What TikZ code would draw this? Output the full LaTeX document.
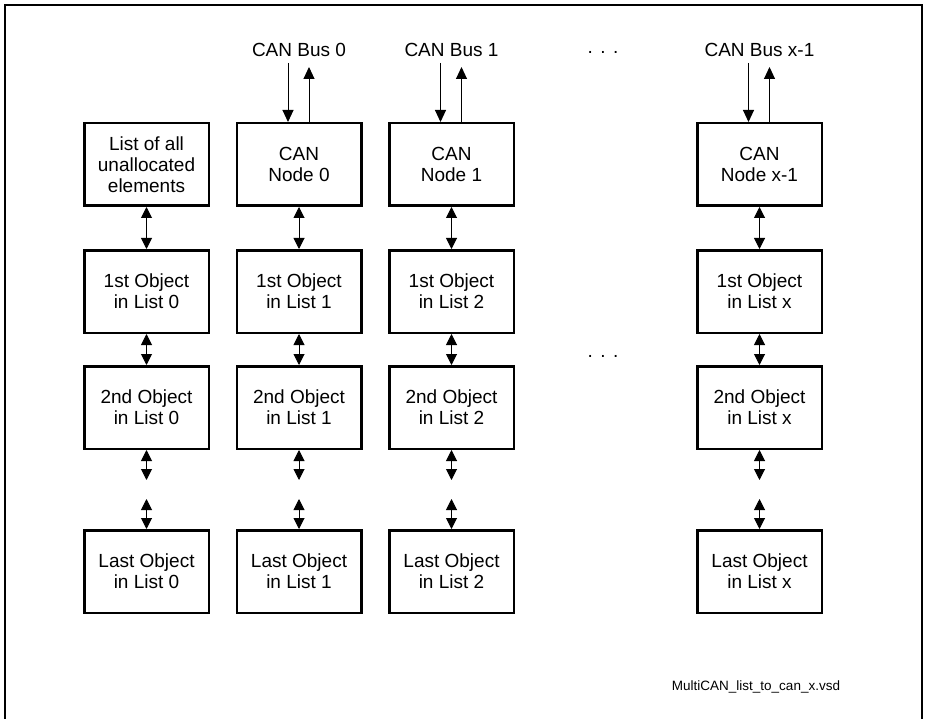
\documentclass[tikz,border=0pt]{standalone}
\usepackage{fontspec}
\setmainfont{Liberation Sans}
\usetikzlibrary{arrows.meta, positioning}

\begin{document}
\begin{tikzpicture}[x=1pt, y=-1pt,
    box/.style={draw, line width=2.5pt, minimum width=124.5pt, minimum height=82.5pt,
        inner sep=0pt, align=center, font=\fontsize{19}{21}\selectfont},
    bus/.style={inner sep=0pt, font=\fontsize{19}{21}\selectfont},
    link/.style={line width=1pt, {Triangle[width=11pt,length=11pt]}-{Triangle[width=11pt,length=11pt]}},
    buslink/.style={line width=1pt, -{Triangle[width=11pt,length=12pt]}}]
    \useasboundingbox (0,0) rectangle (928,719);
    \draw[line width=1.3pt] (5,740) -- (5,5) -- (922,5) -- (922,740);

    % --- column 0 ---
    \node[box] (free) at (146.5,164.5) {List of all\\unallocated\\elements};
    \node[box, below=42pt of free] (first0) {1st Object\\in List 0};
    \node[box, below=31pt of first0] (second0) {2nd Object\\in List 0};
    \node[box, below=79pt of second0] (last0) {Last Object\\in List 0};
    \coordinate (gapa0) at (146.5,480);
    \coordinate (gapb0) at (146.5,499);
    \draw[link] (free) -- (first0);
    \draw[link] (first0) -- (second0);
    \draw[link] (second0) -- (gapa0);
    \draw[link] (gapb0) -- (last0);

    % --- column 1 ---
    \node[bus] (bus0) at (299,49.5) {CAN Bus 0};
    \node[box] (can0) at (299,164.5) {CAN\\Node 0};
    \node[box, below=42pt of can0] (first1) {1st Object\\in List 1};
    \node[box, below=31pt of first1] (second1) {2nd Object\\in List 1};
    \node[box, below=79pt of second1] (last1) {Last Object\\in List 1};
    \coordinate (busin0) at (288,63);
    \coordinate (busout0) at (309,67);
    \coordinate (gapa1) at (299,480);
    \coordinate (gapb1) at (299,499);
    \draw[buslink] (busin0) -- (busin0 |- can0.north);
    \draw[buslink] (busout0 |- can0.north) -- (busout0);
    \draw[link] (can0) -- (first1);
    \draw[link] (first1) -- (second1);
    \draw[link] (second1) -- (gapa1);
    \draw[link] (gapb1) -- (last1);

    % --- column 2 ---
    \node[bus] (bus1) at (451.5,49.5) {CAN Bus 1};
    \node[box] (can1) at (451.5,164.5) {CAN\\Node 1};
    \node[box, below=42pt of can1] (first2) {1st Object\\in List 2};
    \node[box, below=31pt of first2] (second2) {2nd Object\\in List 2};
    \node[box, below=79pt of second2] (last2) {Last Object\\in List 2};
    \coordinate (busin1) at (440.5,63);
    \coordinate (busout1) at (461.5,67);
    \coordinate (gapa2) at (451.5,480);
    \coordinate (gapb2) at (451.5,499);
    \draw[buslink] (busin1) -- (busin1 |- can1.north);
    \draw[buslink] (busout1 |- can1.north) -- (busout1);
    \draw[link] (can1) -- (first2);
    \draw[link] (first2) -- (second2);
    \draw[link] (second2) -- (gapa2);
    \draw[link] (gapb2) -- (last2);

    % --- dots ---
    \node[bus] (dotsbus) at (603,52) {.\hspace{7.5pt}.\hspace{7.5pt}.};
    \node[bus] (dotslist) at (603,356) {.\hspace{7.5pt}.\hspace{7.5pt}.};

    % --- column 3 ---
    \node[bus] (busx) at (759.5,49.5) {CAN Bus x-1};
    \node[box] (canx) at (759.5,164.5) {CAN\\Node x-1};
    \node[box, below=42pt of canx] (firstx) {1st Object\\in List x};
    \node[box, below=31pt of firstx] (secondx) {2nd Object\\in List x};
    \node[box, below=79pt of secondx] (lastx) {Last Object\\in List x};
    \coordinate (businx) at (748.5,63);
    \coordinate (busoutx) at (769.5,67);
    \coordinate (gapax) at (759.5,480);
    \coordinate (gapbx) at (759.5,499);
    \draw[buslink] (businx) -- (businx |- canx.north);
    \draw[buslink] (busoutx |- canx.north) -- (busoutx);
    \draw[link] (canx) -- (firstx);
    \draw[link] (firstx) -- (secondx);
    \draw[link] (secondx) -- (gapax);
    \draw[link] (gapbx) -- (lastx);

    % --- file name ---
    \node[inner sep=0pt, font=\fontsize{13.5}{16}\selectfont] (fname) at (756,687) {MultiCAN\_list\_to\_can\_x.vsd};
\end{tikzpicture}
\end{document}
